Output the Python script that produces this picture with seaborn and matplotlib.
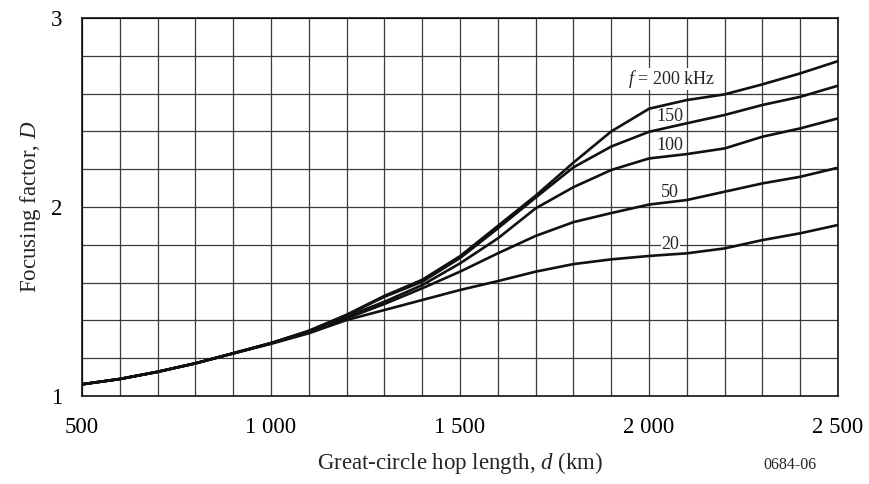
import matplotlib
matplotlib.use("Agg")
import matplotlib.pyplot as plt
import seaborn as sns
import pandas as pd
import numpy as np

# hop length (km)
d_km = [500, 600, 700, 800, 900, 1000, 1100, 1200, 1300, 1400, 1500,
        1600, 1700, 1800, 1900, 2000, 2100, 2200, 2300, 2400, 2500]

# focusing factor D per frequency
D_200 = [1.062, 1.09, 1.128, 1.173, 1.226, 1.28, 1.345, 1.43, 1.53, 1.615, 1.74,
         1.90, 2.06, 2.235, 2.40, 2.52, 2.566, 2.596, 2.649, 2.707, 2.772]
D_150 = [1.062, 1.09, 1.128, 1.173, 1.226, 1.28, 1.344, 1.428, 1.525, 1.605, 1.73,
         1.887, 2.05, 2.21, 2.32, 2.398, 2.443, 2.487, 2.54, 2.583, 2.642]
D_100 = [1.062, 1.09, 1.128, 1.173, 1.226, 1.28, 1.34, 1.42, 1.499, 1.587, 1.702,
         1.834, 1.993, 2.105, 2.196, 2.257, 2.28, 2.31, 2.372, 2.416, 2.469]
D_50 = [1.062, 1.09, 1.128, 1.173, 1.226, 1.279, 1.338, 1.411, 1.487, 1.57, 1.658,
        1.755, 1.847, 1.92, 1.968, 2.013, 2.037, 2.081, 2.125, 2.16, 2.208]
D_20 = [1.062, 1.09, 1.128, 1.173, 1.225, 1.276, 1.332, 1.402, 1.455, 1.508, 1.561,
        1.608, 1.658, 1.698, 1.723, 1.741, 1.755, 1.781, 1.825, 1.861, 1.905]

freqs = ["200", "150", "100", "50", "20"]
curve_labels = ["$f$ = 200 kHz", "150", "100", "50", "20"]

x_ticks = [500, 1000, 1500, 2000, 2500]
x_ticklabels = ["500", "1 000", "1 500", "2 000", "2 500"]
y_ticks = [1, 2, 3]

rows = []
for f, vals in zip(freqs, [D_200, D_150, D_100, D_50, D_20]):
    for d, v in zip(d_km, vals):
        rows.append({"d": d, "D": v, "f": f})
df = pd.DataFrame(rows)

sns.set_theme(style="white")
plt.rcParams["font.family"] = ["Liberation Serif", "DejaVu Serif"]
plt.rcParams["mathtext.fontset"] = "custom"
plt.rcParams["mathtext.rm"] = "Liberation Serif"
plt.rcParams["mathtext.it"] = "Liberation Serif:italic"

fig = plt.figure(figsize=(8.7, 4.84), dpi=100)
ax = fig.add_axes([0.0943, 0.1818, 0.869, 0.781])

sns.lineplot(data=df, x="d", y="D", hue="f", palette=["#111111"] * 5,
             estimator=None, sort=False, linewidth=1.9, legend=False, ax=ax, zorder=3)

ax.set_xlim(500, 2500)
ax.set_ylim(1, 3)
ax.set_xticks(np.arange(500, 2501, 100), minor=True)
ax.set_yticks(np.arange(1, 3.01, 0.2), minor=True)
ax.set_xticks(x_ticks)
ax.set_xticklabels(x_ticklabels)
ax.set_yticks(y_ticks)
ax.set_yticklabels([str(t) for t in y_ticks])
ax.grid(True, which="both", color="#3a3a3a", linewidth=0.9)
ax.set_axisbelow(True)
ax.tick_params(axis="both", which="both", length=0, labelsize=16.5, colors="black")
ax.tick_params(axis="x", pad=15)
ax.tick_params(axis="y", pad=14)
for s in ax.spines.values():
    s.set_color("black")
    s.set_linewidth(1.1)

ax.set_xlabel("Great-circle hop length, $d$ (km)", fontsize=16.5, labelpad=9)
ax.set_ylabel("Focusing factor, $D$", fontsize=16.5, labelpad=6)

# curve labels: white box hides the grid, curves stay on top
label_pos = [(2059, 2.677), (2055, 2.478), (2055, 2.328), (2056, 2.077), (2056, 1.799)]
for txt, (lx, ly) in zip(curve_labels, label_pos):
    ax.text(lx, ly, txt, fontsize=13, ha="center", va="center", zorder=2.5,
            bbox=dict(facecolor="white", edgecolor="none", pad=0.3))

fig.text(0.908, 0.04, "0684-06", fontsize=11.5, ha="center", va="center")

fig.savefig("out.png", dpi=100)
